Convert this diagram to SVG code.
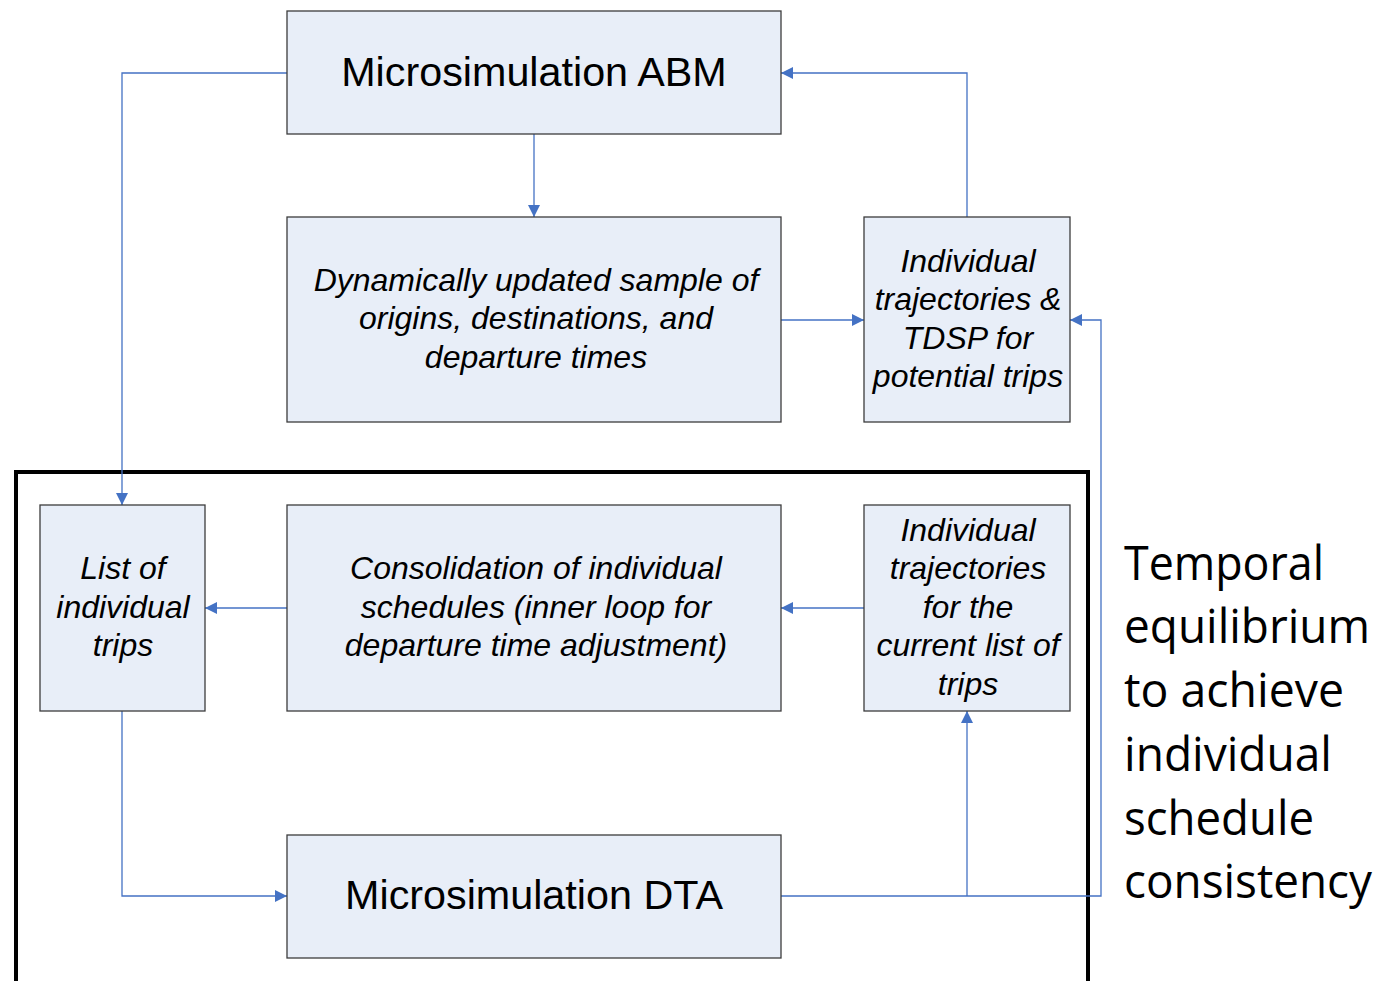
<svg xmlns="http://www.w3.org/2000/svg" width="1387" height="981" viewBox="0 0 1387 981">
  <defs>
    <marker id="arrow" viewBox="0 0 10 10" refX="10" refY="5" markerWidth="13" markerHeight="12" markerUnits="userSpaceOnUse" orient="auto">
      <path d="M0,0 L10,5 L0,10 z" fill="#4472C4"/>
    </marker>
    <style>
      .box { fill: #E8EEF8; stroke: #3c3c3c; stroke-width: 1.3; }
      .title { font-family: "Liberation Sans", Arial, sans-serif; font-size: 41.3px; fill: #000; text-anchor: middle; }
      .label { font-family: "Liberation Sans", Arial, sans-serif; font-size: 32px; font-style: italic; fill: #000; text-anchor: middle; }
      .conn { fill: none; stroke: #4472C4; stroke-width: 1.3; }
      .note { font-family: "Open Sans", "Noto Sans", sans-serif; font-size: 47px; fill: #000; }
    </style>
  </defs>
  <rect width="1387" height="981" fill="#fff"/>

  <!-- inner-loop frame -->
  <path d="M16,981 L16,472 L1088,472 L1088,981" fill="none" stroke="#000" stroke-width="4"/>

  <!-- connectors -->
  <g id="connectors">
    <path class="conn" d="M287,73 L122,73 L122,505" marker-end="url(#arrow)"/>
    <path class="conn" d="M534,134 L534,217" marker-end="url(#arrow)"/>
    <path class="conn" d="M781,320 L864,320" marker-end="url(#arrow)"/>
    <path class="conn" d="M967,217 L967,73 L781,73" marker-end="url(#arrow)"/>
    <path class="conn" d="M287,608 L205,608" marker-end="url(#arrow)"/>
    <path class="conn" d="M864,608 L781,608" marker-end="url(#arrow)"/>
    <path class="conn" d="M122,711 L122,896 L287,896" marker-end="url(#arrow)"/>
    <path class="conn" d="M781,896 L1101,896 L1101,320 L1070,320" marker-end="url(#arrow)"/>
    <path class="conn" d="M967,896 L967,711" marker-end="url(#arrow)"/>
  </g>

  <g id="abm">
    <rect class="box" x="287" y="11" width="494" height="123"/>
    <text class="title" x="534" y="86">Microsimulation ABM</text>
  </g>

  <g id="sample">
    <rect class="box" x="287" y="217" width="494" height="205"/>
    <text class="label" x="536" y="291">Dynamically updated sample of</text>
    <text class="label" x="536" y="329">origins, destinations, and</text>
    <text class="label" x="536" y="368">departure times</text>
  </g>

  <g id="tdsp">
    <rect class="box" x="864" y="217" width="206" height="205"/>
    <text class="label" x="968" y="272">Individual</text>
    <text class="label" x="968" y="310">trajectories &amp;</text>
    <text class="label" x="968" y="349">TDSP for</text>
    <text class="label" x="968" y="387">potential trips</text>
  </g>

  <g id="trip-list">
    <rect class="box" x="40" y="505" width="165" height="206"/>
    <text class="label" x="123" y="579">List of</text>
    <text class="label" x="123" y="618">individual</text>
    <text class="label" x="123" y="656">trips</text>
  </g>

  <g id="consolidation">
    <rect class="box" x="287" y="505" width="494" height="206"/>
    <text class="label" x="536" y="579">Consolidation of individual</text>
    <text class="label" x="536" y="618">schedules (inner loop for</text>
    <text class="label" x="536" y="656">departure time adjustment)</text>
  </g>

  <g id="current">
    <rect class="box" x="864" y="505" width="206" height="206"/>
    <text class="label" x="968" y="541">Individual</text>
    <text class="label" x="968" y="579">trajectories</text>
    <text class="label" x="968" y="618">for the</text>
    <text class="label" x="968" y="656">current list of</text>
    <text class="label" x="968" y="695">trips</text>
  </g>

  <g id="dta">
    <rect class="box" x="287" y="835" width="494" height="123"/>
    <text class="title" x="534" y="909">Microsimulation DTA</text>
  </g>

  <g id="note">
    <text class="note" x="1124" y="580" textLength="200" lengthAdjust="spacingAndGlyphs">Temporal</text>
    <text class="note" x="1124" y="643" textLength="246" lengthAdjust="spacingAndGlyphs">equilibrium</text>
    <text class="note" x="1124" y="707" textLength="220" lengthAdjust="spacingAndGlyphs">to achieve</text>
    <text class="note" x="1124" y="771" textLength="208" lengthAdjust="spacingAndGlyphs">individual</text>
    <text class="note" x="1124" y="835" textLength="190" lengthAdjust="spacingAndGlyphs">schedule</text>
    <text class="note" x="1124" y="898" textLength="248" lengthAdjust="spacingAndGlyphs">consistency</text>
  </g>
</svg>
